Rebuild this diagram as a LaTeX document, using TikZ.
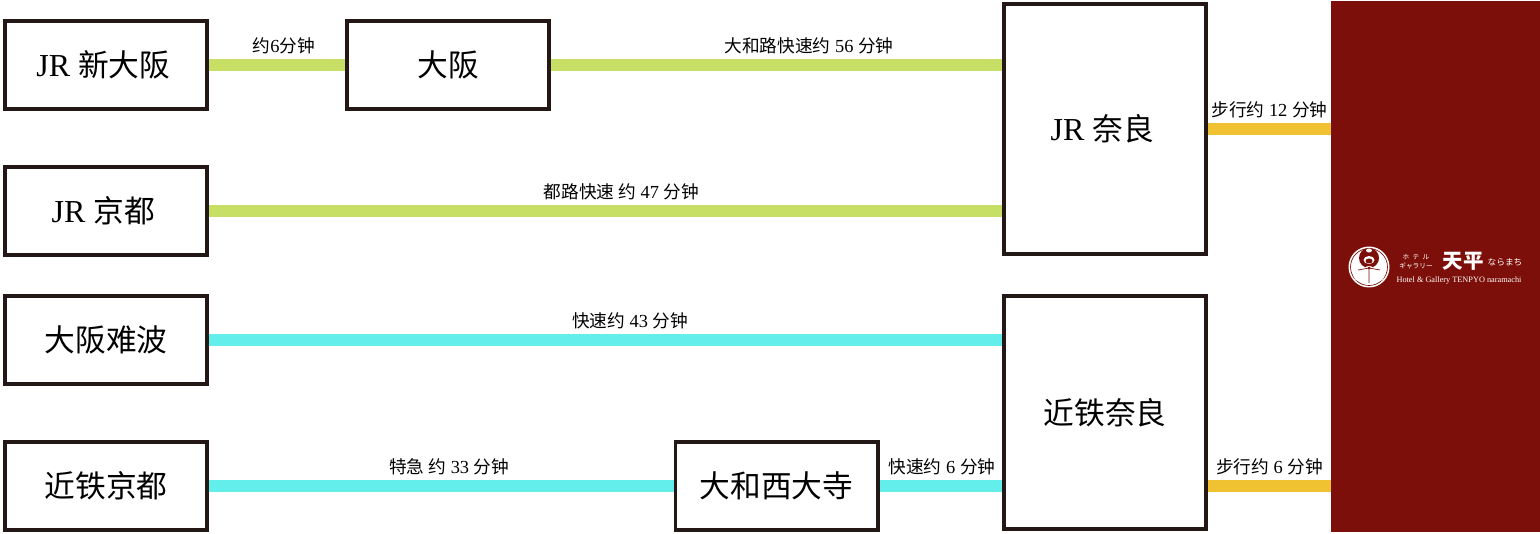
\documentclass[tikz,border=0pt]{standalone}
\usepackage{fontspec}
\setmainfont{Liberation Serif}
\newfontfamily\cjk[Scale=0.96]{Noto Sans CJK SC}
\definecolor{jrline}{HTML}{C8DF66}
\definecolor{kintetsuline}{HTML}{63EEEC}
\definecolor{walkline}{HTML}{F0C232}
\definecolor{hotelred}{HTML}{7C0F0A}
\definecolor{boxline}{HTML}{231815}
\tikzset{
	station/.style={draw=boxline,line width=2.8pt,fill=white,minimum width=151.7pt,minimum height=66.2pt,inner sep=0pt,font=\fontsize{24}{28}\selectfont},
	jr/.style={draw=jrline,line width=9.5pt},
	kintetsu/.style={draw=kintetsuline,line width=9.5pt},
	walk/.style={draw=walkline,line width=9.5pt},
	timelabel/.style={font=\fontsize{13.8}{16}\selectfont,inner sep=0pt,above=3.5pt},
	logotext/.style={text=white,inner sep=0pt}
}
\begin{document}
\begin{tikzpicture}[x=0.75pt,y=-0.75pt]
	\useasboundingbox (0,0) rectangle (1540,534);
	% hotel
	\node[fill=hotelred,minimum width=156.75pt,minimum height=397.5pt,inner sep=0pt] (hotel) at (1435.5,266.5) {};
	% stations
	\node[station] (shinosaka) at (106,65) {JR {\cjk 新大阪}\kern4pt};
	\node[station] (osaka) at (448,65) {\cjk 大阪};
	\node[station] (jrkyoto) at (106,211) {JR {\cjk 京都}\kern4pt};
	\node[station] (namba) at (106,340) {\cjk 大阪难波};
	\node[station] (kkyoto) at (106,486) {\cjk 近铁京都};
	\node[station] (saidaiji) at (776.5,486) {\cjk 大和西大寺};
	\node[station,minimum height=187.7pt] (jrnara) at (1105,129) {JR {\cjk 奈良}\kern4pt};
	\node[station,minimum height=174.95pt] (knara) at (1105,412.5) {\cjk 近铁奈良};
	% lines
	\draw[jr] (shinosaka.east) -- (osaka.west) node[timelabel,pos=0.55] (l1) {{\cjk 约}6{\cjk 分钟}};
	\draw[jr] (osaka.east) -- (osaka.east -| jrnara.west) node[timelabel,pos=0.572] (l2) {{\cjk 大和路快速约} 56 {\cjk 分钟}};
	\draw[jr] (jrkyoto.east) -- (jrkyoto.east -| jrnara.west) node[timelabel,pos=0.52] (l3) {{\cjk 都路快速 约} 47 {\cjk 分钟}};
	\draw[walk] (jrnara.east) -- (jrnara.east -| hotel.west) node[timelabel,pos=0.5] (l4) {{\cjk 步行约} 12 {\cjk 分钟}};
	\draw[kintetsu] (namba.east) -- (namba.east -| knara.west) node[timelabel,pos=0.531] (l5) {{\cjk 快速约} 43 {\cjk 分钟}};
	\draw[kintetsu] (kkyoto.east) -- (saidaiji.west) node[timelabel,pos=0.517] (l6) {{\cjk 特急 约} 33 {\cjk 分钟}};
	\draw[kintetsu] (saidaiji.east) -- (saidaiji.east -| knara.west) node[timelabel,pos=0.51] (l7) {{\cjk 快速约} 6 {\cjk 分钟}};
	\draw[walk] (saidaiji.east -| knara.east) -- (saidaiji.east -| hotel.west) node[timelabel,pos=0.5] (l8) {{\cjk 步行约} 6 {\cjk 分钟}};
	% logo
	\fill[white] (1369,267) circle (20.5);
	\draw[hotelred,line width=0.5pt] (1369,267) circle (18.5);
	\fill[hotelred] (1369,258) circle (10);
	\fill[white] (1369,250.5) ellipse (3 and 2);
	\fill[white] (1369,260) ellipse (5.5 and 4);
	\fill[hotelred] (1369,261) ellipse (3.5 and 2.5);
	\fill[white] (1369,272) circle (6);
	\fill[white] (1360,275) circle (6.5);
	\fill[white] (1378,275) circle (6.5);
	\fill[hotelred] (1369,268) circle (1.5);
	\draw[hotelred,line width=0.5pt] (1369,268) -- (1369,283) (1369,268) -- (1358,270) (1369,268) -- (1380,270);
	\node[logotext,font=\cjk\fontsize{5.2}{6.75}\selectfont,align=center] (logokana) at (1416,262) {ホ\hspace{2.5pt}テ\hspace{2.5pt}ル\\ギャラリー};
	\node[logotext,font=\cjk\bfseries\fontsize{16}{18}\selectfont] (logoname) at (1463,261) {天平};
	\node[logotext,font=\cjk\fontsize{6.8}{8}\selectfont] (logocity) at (1505,262) {ならまち};
	\node[logotext,font=\fontsize{6.2}{7}\selectfont] (logoeng) at (1459,280.5) {Hotel \& Gallery TENPYO naramachi};
\end{tikzpicture}
\end{document}
